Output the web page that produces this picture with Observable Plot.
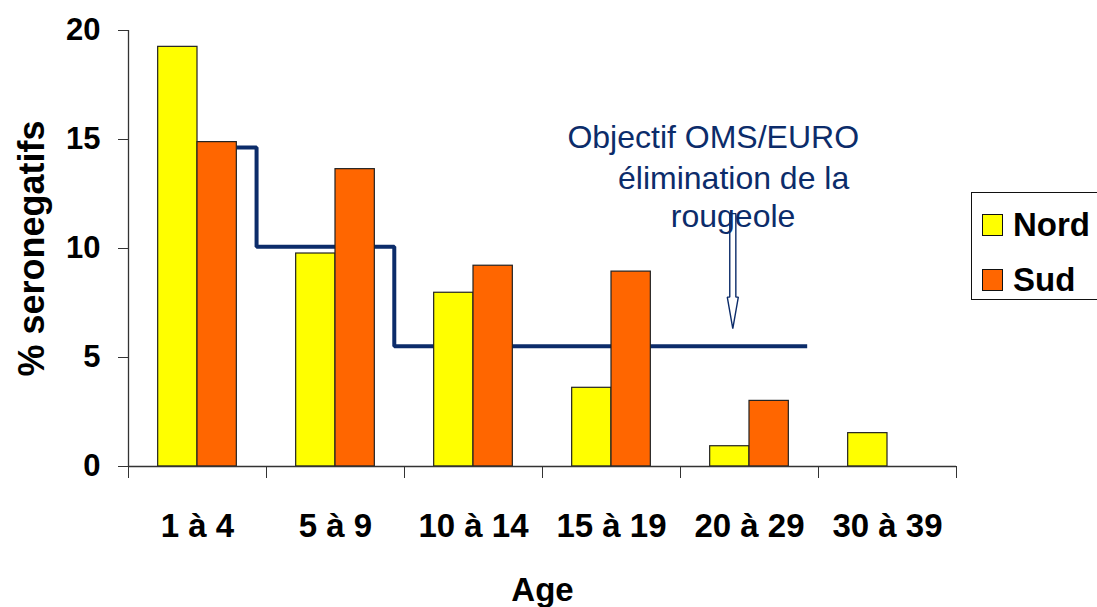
<!DOCTYPE html>
<html>
<head>
<meta charset="utf-8">
<script src="https://cdn.jsdelivr.net/npm/d3@7"></script>
<script src="https://cdn.jsdelivr.net/npm/@observablehq/plot@0.6"></script>
<style>
  html, body { margin: 0; padding: 0; background: #fff; }
  #wrap { position: relative; width: 1097px; height: 607px; overflow: hidden; font-family: "Liberation Sans", Arial, sans-serif; }
  #legend { position: absolute; left: 971px; top: 192px; width: 150px; height: 108px; border: 1.5px solid #111; background: #fff; box-sizing: border-box; }
  .item { position: absolute; left: 10px; display: flex; align-items: center; }
  .sw { width: 21px; height: 22px; border: 1.3px solid #111; box-sizing: border-box; }
  .lab { font-weight: bold; font-size: 33px; margin-left: 10px; color: #000; line-height: 1; }
</style>
</head>
<body>
<div id="wrap"></div>
<script>
// ---- data ----
const categories = ["1 à 4", "5 à 9", "10 à 14", "15 à 19", "20 à 29", "30 à 39"];
const nord = [19.25, 9.77, 7.97, 3.61, 0.93, 1.53];
const sud  = [14.88, 13.64, 9.21, 8.94, 3.01, null];
const seriesNames = ["Nord", "Sud"];
const seriesColors = ["#FFFF00", "#FF6600"];
const yTicks = [0, 5, 10, 15, 20];

// WHO/EURO elimination target (step line)
const targetX = [0.785, 0.928, 1.926, 4.918];
const targetY = [14.63, 10.08, 5.52, 5.52];

// annotation
const annotLines = ["Objectif OMS/EURO", "élimination de la", "rougeole"];
const annotX = [4.237, 4.385, 4.381];
const annotY = [14.62, 12.71, 10.98];
// hollow arrow (center x, top, head base, tip) in data units
const arrowCX = 4.379, arrowHalfShaft = 0.022, arrowHalfHead = 0.040;
const arrowTop = 11.6, arrowHeadBase = 7.77, arrowTip = 6.32;

// ---- build tables ----
const bars = [];
categories.forEach((c, i) => {
  if (nord[i] != null) bars.push({x1: i + 0.215, x2: i + 0.5, v: nord[i], s: "Nord"});
  if (sud[i] != null) bars.push({x1: i + 0.5, x2: i + 0.785, v: sud[i], s: "Sud"});
});
const target = targetX.map((x, i) => ({x, y: targetY[i]}));
const annot = annotLines.map((t, i) => ({t, x: annotX[i], y: annotY[i]}));
const arrowPts = [
  [arrowCX - arrowHalfShaft, arrowTop],
  [arrowCX - arrowHalfShaft, arrowHeadBase],
  [arrowCX - arrowHalfHead, arrowHeadBase],
  [arrowCX, arrowTip],
  [arrowCX + arrowHalfHead, arrowHeadBase],
  [arrowCX + arrowHalfShaft, arrowHeadBase],
  [arrowCX + arrowHalfShaft, arrowTop],
  [arrowCX - arrowHalfShaft, arrowTop]
].map(([x, y]) => ({x, y}));

const navy = "#0c2c6a";
const axisColor = "#333";

const chart = Plot.plot({
  width: 1097,
  height: 607,
  marginLeft: 128,
  marginRight: 141,
  marginTop: 30,
  marginBottom: 141,
  style: {fontFamily: "'Liberation Sans', Arial, sans-serif", background: "#fff", color: "#000"},
  x: {domain: [0, 6]},
  y: {domain: [0, 20]},
  color: {domain: seriesNames, range: seriesColors},
  marks: [
    // target step line (behind bars)
    Plot.line(target, {x: "x", y: "y", curve: "step-after", stroke: navy, strokeWidth: 4, strokeLinejoin: "miter", strokeLinecap: "butt"}),
    // bars
    Plot.rectY(bars, {x1: "x1", x2: "x2", y1: 0, y2: "v", fill: "s", stroke: "#222", strokeWidth: 1.2}),
    // axes lines
    Plot.ruleY([0], {stroke: axisColor, strokeWidth: 1.3}),
    Plot.ruleX([0], {stroke: axisColor, strokeWidth: 1.3}),
    // y axis
    Plot.axisY({ticks: yTicks, tickSize: 10, tickPadding: 18, fontSize: 31, fontWeight: "bold", stroke: axisColor, fill: "#000", label: null}),
    // x axis tick marks at band boundaries
    Plot.axisX({ticks: d3.range(0, 7), tickSize: 12, tickFormat: () => "", stroke: axisColor, label: null}),
    // x axis category labels
    Plot.axisX({ticks: categories.map((c, i) => i + 0.5), tickSize: 0, tickPadding: 47, tickFormat: (d) => categories[Math.floor(d)], fontSize: 33, fontWeight: "bold", fill: "#000", label: null}),
    // axis titles
    Plot.text(["Age"], {frameAnchor: "bottom", lineAnchor: "bottom", textAnchor: "middle", dy: 134, fontSize: 33, fontWeight: "bold", fill: "#000"}),
    Plot.text(["% seronegatifs"], {frameAnchor: "left", lineAnchor: "bottom", textAnchor: "middle", rotate: -90, dx: -85, fontSize: 36, fontWeight: "bold", fill: "#000"}),
    // hollow arrow
    Plot.line(arrowPts, {x: "x", y: "y", stroke: navy, strokeWidth: 1.4, fill: "#fff", strokeLinejoin: "miter"}),
    // annotation text
    Plot.text(annot, {x: "x", y: "y", text: "t", textAnchor: "middle", lineAnchor: "bottom", fontSize: 32, fill: navy})
  ]
});

const wrap = document.getElementById("wrap");
wrap.appendChild(chart);

// legend
const legend = document.createElement("div");
legend.id = "legend";
seriesNames.forEach((name, i) => {
  const item = document.createElement("div");
  item.className = "item";
  item.style.top = (i === 0 ? 15 : 70) + "px";
  const sw = document.createElement("div");
  sw.className = "sw";
  sw.style.background = seriesColors[i];
  const lab = document.createElement("span");
  lab.className = "lab";
  lab.textContent = name;
  item.appendChild(sw);
  item.appendChild(lab);
  legend.appendChild(item);
});
wrap.appendChild(legend);
</script>
</body>
</html>
